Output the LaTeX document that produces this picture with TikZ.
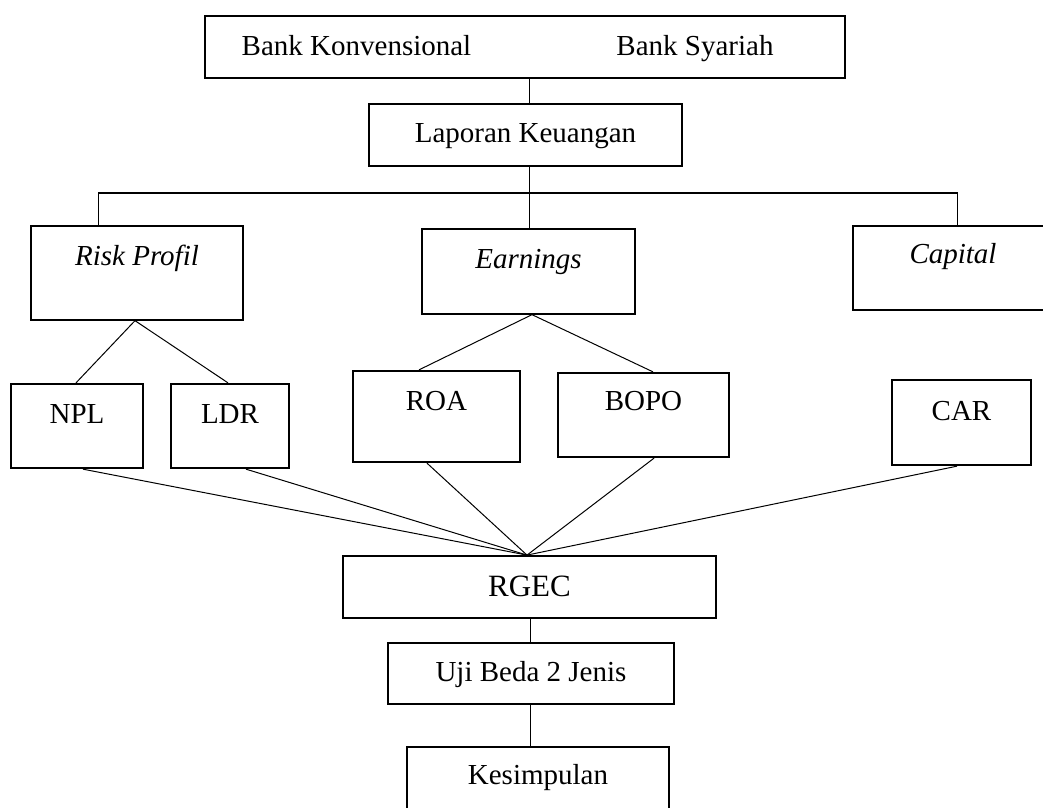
\documentclass[tikz,border=0pt]{standalone}
\usepackage{fontspec}
\setmainfont{Liberation Serif}
\usetikzlibrary{calc}
\newcommand\fsnorm{\fontsize{29}{34}\selectfont}
\newcommand\fsbig{\fontsize{31}{36}\selectfont}
\tikzset{
  box/.style={draw, line width=1.3pt, inner xsep=0pt, inner ysep=0pt, font=\fsnorm, align=center},
  tbox/.style={box, line width=2.3pt},
  conn/.style={line width=1pt},
  lbl/.style={inner sep=0pt, anchor=base, font=\fsnorm}
}
\begin{document}
\begin{tikzpicture}[x=1pt, y=-1pt]
\useasboundingbox (0,0) rectangle (1043,807);
\begin{scope}
\clip (0,0) rectangle (1043,807);
% top box
\node[box, minimum width=640pt, minimum height=62pt] (top) at (525,47) {};
\node[lbl] (bk) at (356.5,55) {Bank Konvensional};
\node[lbl] (bs) at (695,55) {Bank Syariah};
% Laporan
\node[box, minimum width=313pt, text height=38pt, text depth=24pt] (lap) at (525.5,135) {Laporan Keuangan};
% level 2
\node[box, minimum width=212pt, text height=39pt, text depth=55pt] (rp) at (137,273) {\textit{Risk Profil}};
\node[box, minimum width=213pt, text height=39pt, text depth=46pt] (earn) at (528.5,271.5) {\textit{Earnings}};
\node[box, minimum width=200pt, text height=37pt, text depth=47pt] (cap) at (953,268) {\textit{Capital}};
% level 3
\node[tbox, minimum width=132pt, text height=39pt, text depth=45pt] (npl) at (77,426) {NPL};
\node[tbox, minimum width=118pt, text height=39pt, text depth=45pt] (ldr) at (230,426) {LDR};
\node[tbox, minimum width=167pt, text height=39pt, text depth=52pt] (roa) at (436.5,416.5) {ROA};
\node[tbox, minimum width=171pt, text height=37pt, text depth=47pt] (bopo) at (643.5,415) {BOPO};
\node[tbox, minimum width=139pt, text height=40pt, text depth=45pt] (car) at (961.5,422.5) {CAR};
% bottom
\node[box, line width=1.8pt, minimum width=373pt, text height=40pt, text depth=22pt, font=\fsbig] (rgec) at (529.5,587) {RGEC};
\node[box, minimum width=286pt, text height=38pt, text depth=23pt] (uji) at (531,673.5) {Uji Beda 2 Jenis};
\node[tbox, minimum width=262pt, text height=37pt, text depth=46pt] (kes) at (538,788.5) {Kesimpulan};
% connectors
\coordinate (hL) at (98,193);
\coordinate (hM) at (529,193);
\coordinate (hR) at (958,193);
\draw[conn] ([xshift=4pt]top.south) -- ([xshift=3.5pt]lap.north);
\draw[conn] ([xshift=3.5pt]lap.south) -- (hM);
\draw[line width=1.3pt] (hL) -- (hR);
\draw[conn] (hL) -- (hL |- rp.north);
\draw[conn] (hM) -- (hM |- earn.north);
\draw[conn] ([xshift=-1pt]hR) -- ([xshift=-1pt]hR |- cap.north);
\draw[conn] ([xshift=-2pt]rp.south) -- ([xshift=-1pt]npl.north);
\draw[conn] ([xshift=-2pt]rp.south) -- ([xshift=-2pt]ldr.north);
\draw[conn] ([xshift=3.5pt]earn.south) -- ([xshift=-17.5pt]roa.north);
\draw[conn] ([xshift=3.5pt]earn.south) -- ([xshift=9.5pt]bopo.north);
\coordinate (conv) at ([xshift=-2.5pt]rgec.north);
\draw[conn] ([xshift=6pt]npl.south) -- (conv);
\draw[conn] ([xshift=16pt]ldr.south) -- (conv);
\draw[conn] ([xshift=-9.5pt]roa.south) -- (conv);
\draw[conn] ([xshift=10.5pt]bopo.south) -- (conv);
\draw[conn] ([xshift=-4.5pt]car.south) -- (conv);
\draw[conn] ([xshift=0.5pt]rgec.south) -- ([xshift=-1pt]uji.north);
\draw[conn] ([xshift=-1pt]uji.south) -- ([xshift=-8pt]kes.north);
\end{scope}
\end{tikzpicture}
\end{document}
